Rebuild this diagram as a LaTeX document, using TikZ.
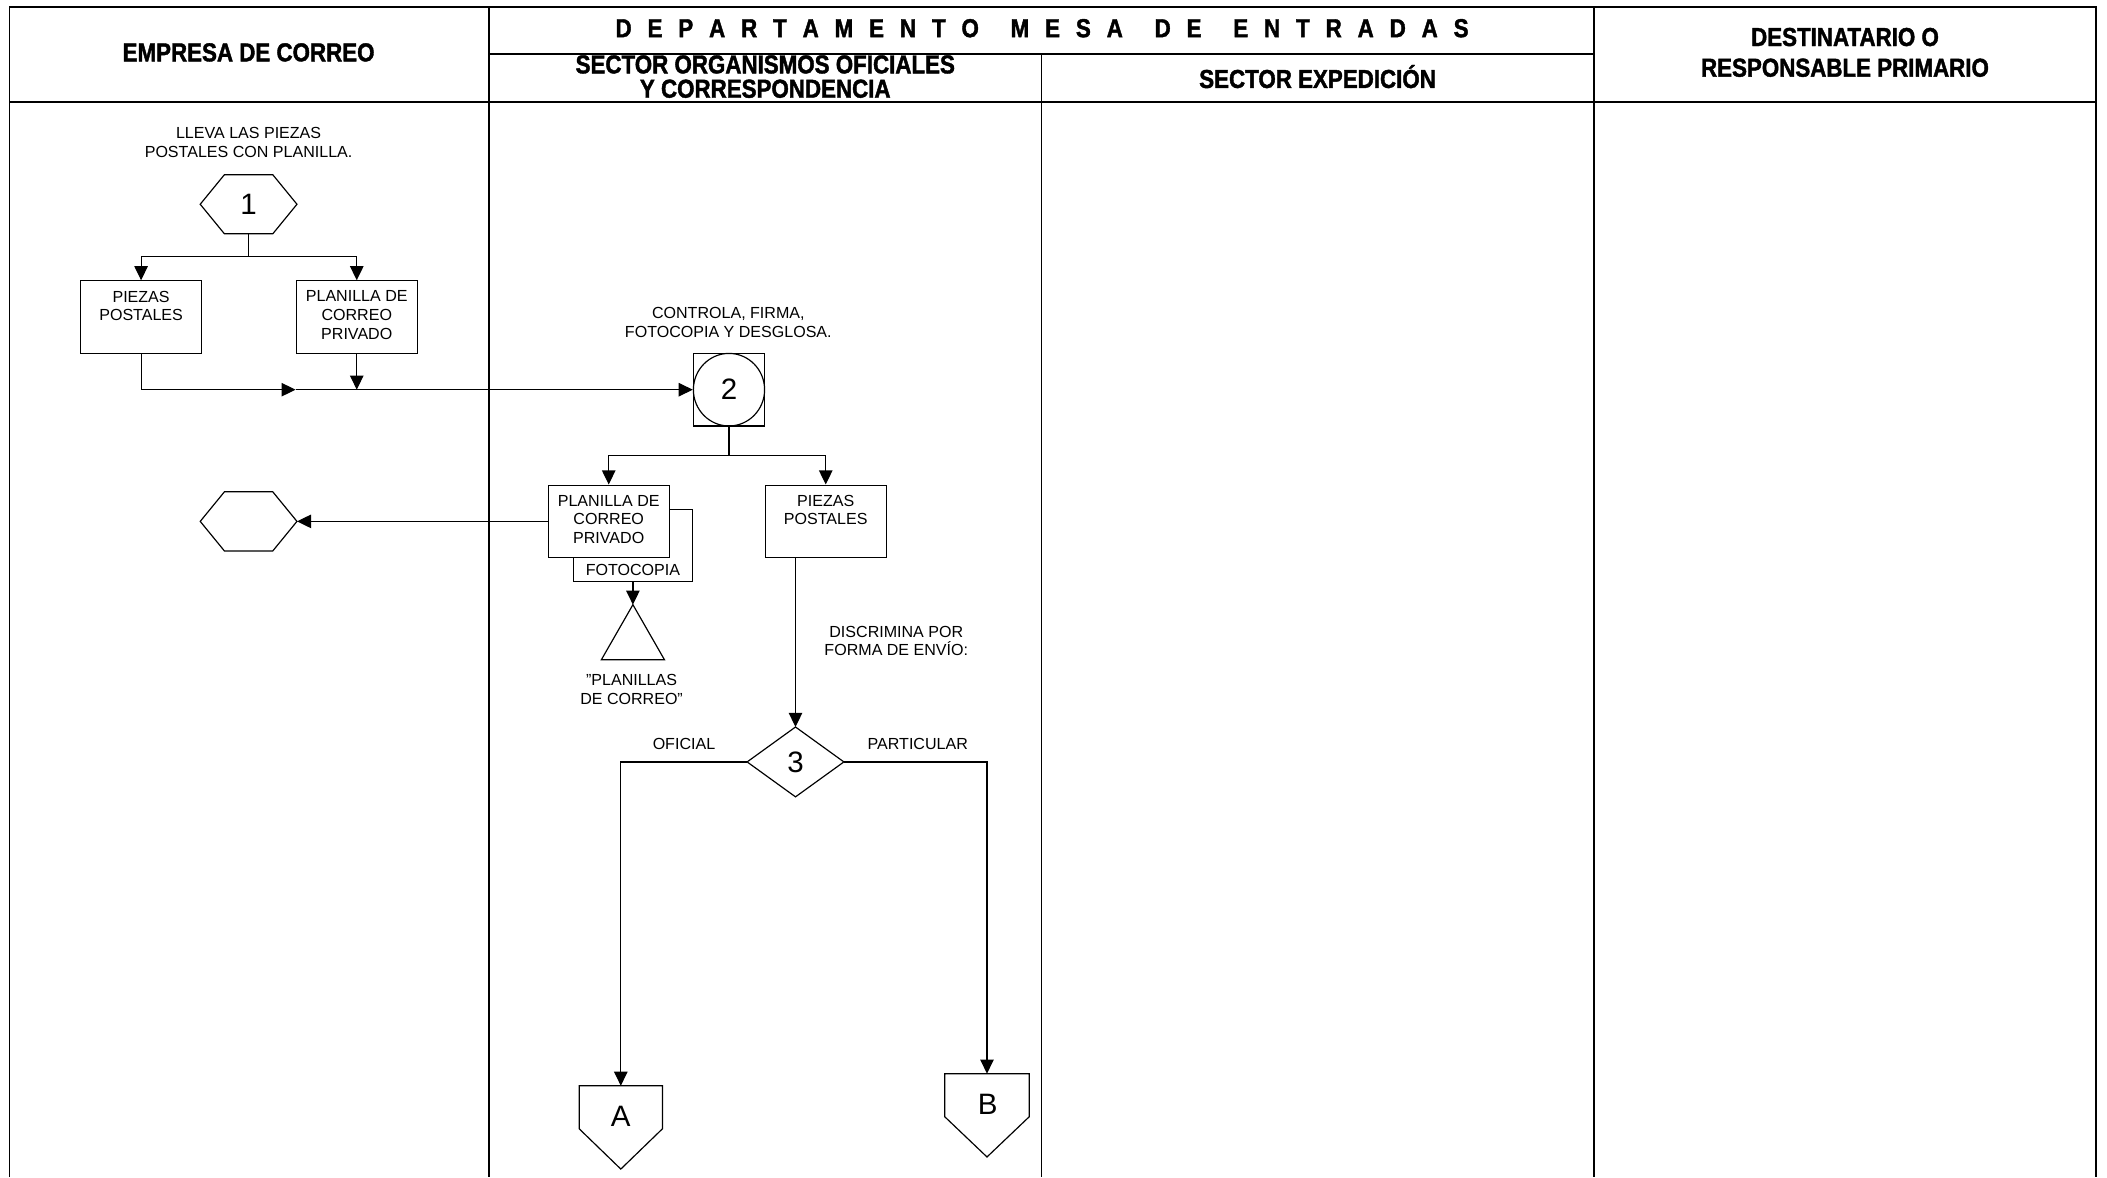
\documentclass[tikz,border=0pt]{standalone}
\usepackage{fontspec}
\setmainfont{Liberation Sans}
\newfontfamily\hdrfont[FakeStretch=0.86,FakeBold=1.5]{Liberation Sans}
\usetikzlibrary{arrows.meta,calc}
\newcommand\depLG{\hspace{\stretch{1}}}
\newcommand\depWG{\hspace{\stretch{2}}}
\begin{document}
\begin{tikzpicture}[x=0.02cm,y=-0.02cm,
 txt/.style={font=\fontsize{6.8}{7.9}\selectfont, align=center, inner sep=0},
 hdr/.style={font=\hdrfont\bfseries\fontsize{11}{10.3}\selectfont, align=center, inner sep=0},
 big/.style={font=\fontsize{12.5}{14}\selectfont, inner sep=0},
 box/.style={draw, fill=white, line width=0.5pt, minimum width=1.8cm, minimum height=1.08cm, inner sep=0},
 ghost/.style={inner sep=0, outer sep=0},
 arr/.style={-{Triangle[length=0.21cm,width=0.2cm]}},
 ln/.style={line width=0.5pt},
 grid/.style={line width=0.7pt}]
\fill[white] (0,0) rectangle (1568,876);
\useasboundingbox (0,0) rectangle (1568,876);
% table
\draw[grid] (7,876) -- (7,5) -- (1560,5) -- (1560,876);
\draw[grid] (7,76) -- (1560,76);
\draw[grid] (364,5) -- (364,876);
\draw[grid] (775,40) -- (775,876);
\draw[grid] (1186,5) -- (1186,876);
\draw[grid] (364,40) -- (1186,40);
% headers
\node[hdr] (hEmp) at (185,39) {EMPRESA DE CORREO};
\node[hdr] (hDep) at (775.5,21) {\makebox[12.7cm][s]{D\depLG E\depLG P\depLG A\depLG R\depLG T\depLG A\depLG M\depLG E\depLG N\depLG T\depLG O\depWG M\depLG E\depLG S\depLG A\depWG D\depLG E\depWG E\depLG N\depLG T\depLG R\depLG A\depLG D\depLG A\depLG S}};
\node[hdr] (hSOO) at (569.5,57) {SECTOR ORGANISMOS OFICIALES\\Y CORRESPONDENCIA};
\node[hdr] (hExp) at (980.5,57) {SECTOR EXPEDICIÓN};
\node[hdr, font=\hdrfont\bfseries\fontsize{11}{13}\selectfont] (hDest) at (1373,39) {DESTINATARIO O\\RESPONSABLE PRIMARIO};
% step 1
\node[txt] (t1) at (185,106) {LLEVA LAS PIEZAS\\POSTALES CON PLANILLA.};
\node[ghost, big, minimum width=1.44cm, minimum height=0.88cm] (h1) at (185,152) {1};
\draw[ln] (h1.west) -- ([xshift=0.36cm]h1.north west) -- ([xshift=-0.36cm]h1.north east) -- (h1.east) -- ([xshift=-0.36cm]h1.south east) -- ([xshift=0.36cm]h1.south west) -- cycle;
\node[box] (b1) at (105,236) {};
\node[txt, anchor=north] (tb1) at ([yshift=-0.15cm]b1.north) {PIEZAS\\POSTALES};
\node[box] (b2) at (265.5,236) {};
\node[txt, anchor=north] (tb2) at ([yshift=-0.15cm]b2.north) {PLANILLA DE\\CORREO\\PRIVADO};
\coordinate (j1) at (185,191);
\draw[ln] (h1.south) -- (j1);
\draw[ln,arr] (j1) -| (b1.north);
\draw[ln,arr] (j1) -| (b2.north);
% step 2
\node[txt] (t2) at (542,240) {CONTROLA, FIRMA,\\FOTOCOPIA Y DESGLOSA.};
\node[draw, ln, big, minimum width=1.06cm, minimum height=1.08cm, inner sep=0] (s2) at (542.5,290) {2};
\draw[ln] (s2.center) ellipse [x radius=0.53cm, y radius=0.54cm];
\coordinate (m1) at (220,290);
\draw[ln,arr] (b1.south) |- (m1);
\draw[ln,arr] (m1) -- (s2.west);
\draw[ln,arr] (b2.south) -- (b2.south |- s2.west);
\coordinate (j2) at (542.5,339);
\draw[ln] (s2.south) -- (j2);
\node[box, minimum width=1.78cm] (fc) at (471,406) {};
\node[box] (b3) at (453,388) {};
\node[txt, anchor=north] (tb3) at ([yshift=-0.15cm]b3.north) {PLANILLA DE\\CORREO\\PRIVADO};
\node[txt] (tfc) at (471,424) {FOTOCOPIA};
\node[box] (b4) at (614.5,388) {};
\node[txt, anchor=north] (tb4) at ([yshift=-0.15cm]b4.north) {PIEZAS\\POSTALES};
\draw[ln,arr] (j2) -| (b3.north);
\draw[ln,arr] (j2) -| (b4.north);
\node[ghost, minimum width=1.44cm, minimum height=0.88cm] (h2) at (185,388) {};
\draw[ln] (h2.west) -- ([xshift=0.36cm]h2.north west) -- ([xshift=-0.36cm]h2.north east) -- (h2.east) -- ([xshift=-0.36cm]h2.south east) -- ([xshift=0.36cm]h2.south west) -- cycle;
\draw[ln,arr] (b3.west) -- (h2.east);
\node[ghost, minimum width=0.94cm, minimum height=0.82cm] (tr) at (471,470.5) {};
\draw[ln] (tr.north) -- (tr.south east) -- (tr.south west) -- cycle;
\draw[ln,arr] (fc.south) -- (tr.north);
\node[txt] (t3) at (470,513) {"PLANILLAS\\DE CORREO"};
% step 3
\node[txt] (t4) at (667,477) {DISCRIMINA POR\\FORMA DE ENVÍO:};
\node[ghost, big, minimum width=1.44cm, minimum height=1.04cm] (d3) at (592,567) {3};
\draw[ln] (d3.north) -- (d3.east) -- (d3.south) -- (d3.west) -- cycle;
\draw[ln,arr] (d3.north |- b4.south) -- (d3.north);
\node[txt] (lo) at (509,554) {OFICIAL};
\node[txt] (lp) at (683,554) {PARTICULAR};
\node[ghost, minimum width=1.24cm, minimum height=1.24cm] (cA) at (462,839) {};
\draw[ln] (cA.north west) -- (cA.north east) -- ([yshift=0.6cm]cA.south east) -- (cA.south) -- ([yshift=0.6cm]cA.south west) -- cycle;
\node[big] (lA) at (462,831) {A};
\node[ghost, minimum width=1.26cm, minimum height=1.24cm] (cB) at (734.5,830) {};
\draw[ln] (cB.north west) -- (cB.north east) -- ([yshift=0.6cm]cB.south east) -- (cB.south) -- ([yshift=0.6cm]cB.south west) -- cycle;
\node[big] (lB) at (735,822) {B};
\draw[ln,arr] (d3.west) -| (cA.north);
\draw[ln,arr] (d3.east) -| (cB.north);
\end{tikzpicture}
\end{document}
